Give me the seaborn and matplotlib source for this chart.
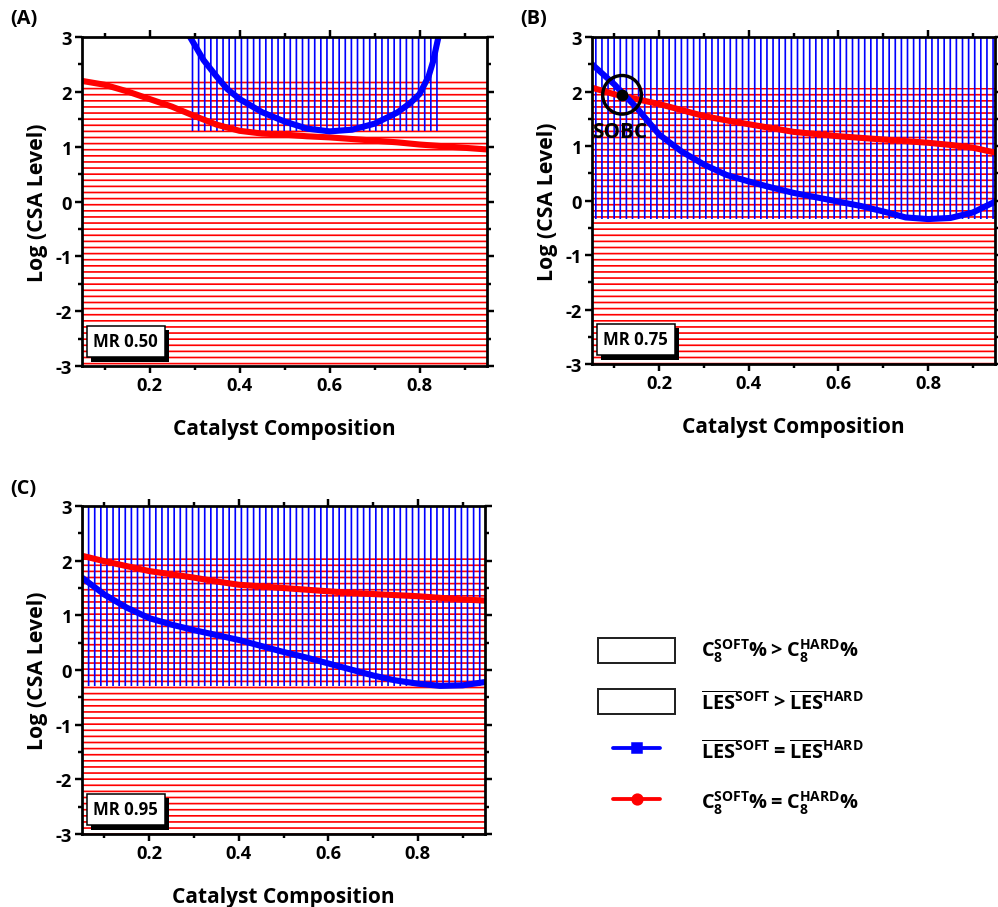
"""
Catalyst composition maps for three MR values
"""

import numpy as np
import pandas as pd
import seaborn as sns
import matplotlib.pyplot as plt
import matplotlib.patheffects as pe
from matplotlib.lines import Line2D
from matplotlib.patches import Patch
from matplotlib.legend_handler import HandlerLine2D

# (A) MR 0.50
a_red_x = [0.05, 0.10, 0.15, 0.20, 0.25, 0.30, 0.35, 0.40, 0.45, 0.50, 0.55, 0.60, 0.65, 0.70, 0.75, 0.80, 0.85, 0.90, 0.95]
a_red_y = [2.20, 2.13, 2.01, 1.87, 1.73, 1.56, 1.40, 1.29, 1.24, 1.22, 1.19, 1.17, 1.14, 1.11, 1.08, 1.04, 1.01, 0.98, 0.95]
a_blue_x = [0.29, 0.30, 0.31, 0.32, 0.35, 0.373, 0.40, 0.45, 0.50, 0.55, 0.60, 0.65, 0.70, 0.75, 0.78, 0.80, 0.82, 0.83, 0.842]
a_blue_y = [3.00, 2.86, 2.72, 2.58, 2.27, 2.05, 1.87, 1.63, 1.46, 1.33, 1.28, 1.31, 1.42, 1.62, 1.80, 1.96, 2.28, 2.55, 3.00]

# (B) MR 0.75
b_red_x = [0.05, 0.10, 0.15, 0.20, 0.25, 0.30, 0.35, 0.40, 0.45, 0.50, 0.55, 0.60, 0.65, 0.70, 0.75, 0.80, 0.85, 0.90, 0.95]
b_red_y = [2.07, 1.95, 1.86, 1.77, 1.66, 1.55, 1.47, 1.40, 1.33, 1.26, 1.22, 1.18, 1.15, 1.12, 1.09, 1.06, 1.02, 0.97, 0.88]
b_blue_x = [0.05, 0.10, 0.15, 0.20, 0.25, 0.30, 0.35, 0.40, 0.45, 0.50, 0.55, 0.60, 0.65, 0.70, 0.75, 0.80, 0.85, 0.90, 0.95]
b_blue_y = [2.50, 2.13, 1.70, 1.21, 0.90, 0.66, 0.47, 0.35, 0.24, 0.14, 0.06, -0.02, -0.10, -0.20, -0.31, -0.34, -0.32, -0.22, -0.02]
sobc_x, sobc_y = 0.117, 1.94

# (C) MR 0.95
c_red_x = [0.05, 0.10, 0.15, 0.20, 0.25, 0.30, 0.35, 0.40, 0.45, 0.50, 0.55, 0.60, 0.65, 0.70, 0.75, 0.80, 0.85, 0.90, 0.95]
c_red_y = [2.09, 1.99, 1.90, 1.81, 1.75, 1.69, 1.62, 1.56, 1.53, 1.50, 1.47, 1.44, 1.41, 1.39, 1.37, 1.35, 1.32, 1.29, 1.27]
c_blue_x = [0.05, 0.10, 0.15, 0.20, 0.25, 0.30, 0.35, 0.40, 0.45, 0.50, 0.55, 0.60, 0.65, 0.70, 0.75, 0.80, 0.85, 0.90, 0.95]
c_blue_y = [1.69, 1.38, 1.14, 0.95, 0.83, 0.73, 0.64, 0.55, 0.44, 0.33, 0.23, 0.12, 0.01, -0.10, -0.19, -0.25, -0.29, -0.28, -0.22]

panels = [
    ("(A)", "MR 0.50", a_red_x, a_red_y, a_blue_x, a_blue_y),
    ("(B)", "MR 0.75", b_red_x, b_red_y, b_blue_x, b_blue_y),
    ("(C)", "MR 0.95", c_red_x, c_red_y, c_blue_x, c_blue_y),
]

legend_labels = [
    r"$\mathbf{C_8^{SOFT}\% > C_8^{HARD}\%}$",
    r"$\overline{\mathbf{LES}}^{\mathbf{SOFT}} \mathbf{>} \overline{\mathbf{LES}}^{\mathbf{HARD}}$",
    r"$\overline{\mathbf{LES}}^{\mathbf{SOFT}} \mathbf{=} \overline{\mathbf{LES}}^{\mathbf{HARD}}$",
    r"$\mathbf{C_8^{SOFT}\% = C_8^{HARD}\%}$",
]

sns.set_theme(style="ticks")
plt.rcParams['font.family'] = ['Open Sans', 'DejaVu Sans']
plt.rcParams['font.weight'] = 'bold'
plt.rcParams['mathtext.fontset'] = 'custom'
plt.rcParams['mathtext.rm'] = 'Open Sans'
plt.rcParams['mathtext.bf'] = 'Open Sans:bold'
plt.rcParams['hatch.linewidth'] = 1.1
plt.rcParams['axes.unicode_minus'] = False
for key in ['text.color', 'axes.labelcolor', 'xtick.color', 'ytick.color',
            'xtick.labelcolor', 'ytick.labelcolor', 'axes.edgecolor']:
    plt.rcParams[key] = 'black'

DPI = 110
fig = plt.figure(figsize=(998 / DPI, 908 / DPI), dpi=DPI)
axes_pos = [
    [0.0822, 0.5958, 0.4058, 0.3623],
    [0.5932, 0.5980, 0.4040, 0.3601],
    [0.0822, 0.0804, 0.4038, 0.3612],
]
label_pos = [(0.010, 0.979), (0.521, 0.979), (0.010, 0.461)]


class ShortLine(HandlerLine2D):
    def get_xdata(self, legend, xdescent, ydescent, width, height, fontsize):
        xdata = np.array([0.2 * width, 0.8 * width]) - xdescent
        return xdata, np.array([0.5 * width]) - xdescent


for (tag, mr, rx, ry, bx, by), pos, lpos in zip(panels, axes_pos, label_pos):
    ax = fig.add_axes(pos)
    ax.set_xlim(0.05, 0.95)
    ax.set_ylim(-3, 3)

    # regions
    ax.fill_between([min(rx), max(rx)], -3, max(ry), facecolor='none',
                    edgecolor='red', hatch='---', linewidth=0, zorder=1)
    ax.fill_between([min(bx), max(bx)], min(by), 3, facecolor='none',
                    edgecolor='blue', hatch='|||', linewidth=0, zorder=1)

    df_r = pd.DataFrame({'x': rx, 'y': ry})
    df_b = pd.DataFrame({'x': bx, 'y': by})
    sns.lineplot(data=df_r, x='x', y='y', color='red', lw=4, ax=ax, zorder=3)
    sns.lineplot(data=df_b, x='x', y='y', color='blue', lw=4, ax=ax, zorder=4)

    ax.set_xticks([0.2, 0.4, 0.6, 0.8])
    ax.set_xticks([0.1, 0.3, 0.5, 0.7, 0.9], minor=True)
    ax.set_yticks([-3, -2, -1, 0, 1, 2, 3])
    ax.set_yticks(np.arange(-2.5, 3, 1.0), minor=True)
    ax.tick_params(which='both', direction='out', top=True, right=True,
                   width=1.6, labelsize=12, pad=2, colors='black')
    ax.tick_params(which='major', length=4.5)
    ax.tick_params(which='minor', length=2.5)
    for lab in ax.get_xticklabels() + ax.get_yticklabels():
        lab.set_fontweight('bold')
    for s in ax.spines.values():
        s.set_linewidth(1.8)
        s.set_color('black')
        s.set_zorder(6)

    ax.set_xlabel("Catalyst Composition", fontsize=13.7, fontweight='bold', labelpad=16)
    ax.set_ylabel("Log (CSA Level)", fontsize=14, fontweight='bold', labelpad=5)

    t = ax.text(0.028, 0.075, mr, transform=ax.transAxes, fontsize=11,
                fontweight='bold', va='center', ha='left', zorder=7,
                bbox=dict(boxstyle='square,pad=0.4', facecolor='white',
                          edgecolor='black', linewidth=1.0))
    t.get_bbox_patch().set_path_effects([
        pe.SimplePatchShadow(offset=(3, -3), shadow_rgbFace='black', alpha=1.0),
        pe.Normal()])

    fig.text(lpos[0], lpos[1], tag, fontsize=13, fontweight='bold',
             ha='left', va='center')

    if tag == "(B)":
        ax.scatter([sobc_x], [sobc_y], s=45, color='black', zorder=8)
        ax.scatter([sobc_x], [sobc_y], s=640, facecolor='none',
                   edgecolor='black', linewidth=2.2, zorder=8)
        ax.text(sobc_x - 0.005, 1.27, "SOBC", fontsize=13.5,
                fontweight='bold', ha='center', va='center', zorder=8)

# legend panel
handles = [
    Patch(facecolor='white', edgecolor='#222222', linewidth=1.3),
    Patch(facecolor='white', edgecolor='#222222', linewidth=1.3),
    Line2D([], [], color='blue', lw=2.5, marker='s', markersize=7),
    Line2D([], [], color='red', lw=2.5, marker='o', markersize=7),
]
leg = fig.legend(handles, legend_labels, loc='upper left',
                 bbox_to_anchor=(598 / 998, 1 - 638 / 908), frameon=False,
                 fontsize=13, handlelength=3.9, handleheight=1.55,
                 handletextpad=1.3, labelspacing=1.25, borderpad=0,
                 borderaxespad=0,
                 handler_map={Line2D: ShortLine(numpoints=1)})

fig.savefig("out.png", dpi=DPI)
